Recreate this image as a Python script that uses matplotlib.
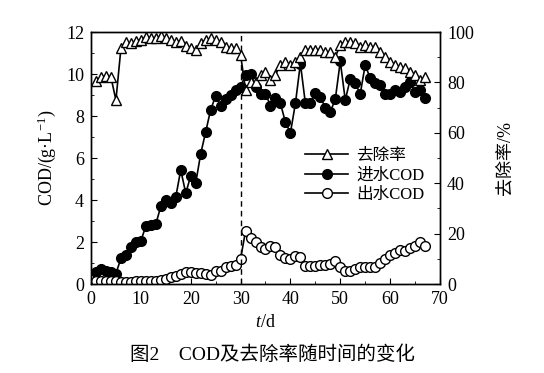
import numpy as np
import matplotlib
matplotlib.use('Agg')
import matplotlib.pyplot as plt
from matplotlib.ticker import MultipleLocator

plt.rcParams['font.family'] = ['Liberation Serif', 'Noto Sans CJK SC']
plt.rcParams['mathtext.fontset'] = 'custom'
plt.rcParams['mathtext.rm'] = 'Liberation Serif'
plt.rcParams['mathtext.it'] = 'Liberation Serif:italic'

days = np.arange(1, 68)

# influent COD, g/L
cod_in = [0.57, 0.7, 0.62, 0.57, 0.5, 1.22, 1.38, 1.76, 2.0, 2.05,
          2.76, 2.8, 2.85, 3.7, 4.0, 3.86, 4.14, 5.43, 4.33, 5.14,
          4.8, 6.2, 7.24, 8.3, 8.95, 8.5, 8.8, 9.0, 9.24, 9.4,
          9.95, 10.0, 9.4, 9.05, 9.05, 8.5, 8.86, 8.6, 7.7, 7.2,
          8.6, 10.5, 8.6, 8.6, 9.1, 8.9, 8.4, 8.2, 8.8, 10.6,
          8.76, 9.76, 9.57, 9.05, 10.43, 9.8, 9.57, 9.5, 9.05, 9.05,
          9.24, 9.14, 9.4, 9.6, 9.14, 9.24, 8.86]

# effluent COD, g/L
cod_out = [0.15, 0.15, 0.12, 0.12, 0.12, 0.1, 0.1, 0.1, 0.12, 0.12,
           0.15, 0.15, 0.15, 0.2, 0.25, 0.33, 0.38, 0.48, 0.55, 0.57,
           0.52, 0.52, 0.5, 0.45, 0.62, 0.6, 0.8, 0.85, 0.9, 1.2,
           2.52, 2.2, 2.0, 1.76, 1.67, 1.8, 1.76, 1.38, 1.24, 1.19,
           1.33, 1.29, 0.86, 0.86, 0.86, 0.9, 0.9, 0.95, 1.1, 0.8,
           0.62, 0.62, 0.7, 0.8, 0.8, 0.8, 0.83, 1.0, 1.19, 1.38,
           1.48, 1.6, 1.57, 1.71, 1.81, 2.0, 1.81]

# removal rate, %
removal = [80.5, 82, 82.5, 82, 73, 93.5, 96, 95.5, 96.5, 97,
           98, 97.5, 97.5, 98.3, 97.5, 97, 96, 96.5, 94.5, 93.5,
           92.8, 95.5, 96.8, 97.5, 96.8, 96, 94, 93.5, 93.5, 91,
           77, 80, 80, 83, 84, 81, 83, 87, 88, 87,
           88, 90, 93, 93, 93, 93, 92, 92, 90, 95,
           96, 96, 95.5, 94, 95, 94, 94, 92, 90, 88,
           87, 86, 85.7, 84, 83, 81, 82]

fig = plt.figure(figsize=(5.44, 3.73), dpi=100)
ax = fig.add_axes([0.1673, 0.2386, 0.6415, 0.6756])
ax2 = ax.twinx()

l2, = ax.plot(days, cod_in, '-o', color='k', mfc='k', ms=7, lw=1.2, label='进水COD')
l3, = ax.plot(days, cod_out, '-o', color='k', mfc='white', ms=7, lw=1.2, label='出水COD')
l1, = ax2.plot(days, removal, '-^', color='k', mfc='white', ms=7.5, lw=1.2, label='去除率')
ax.axvline(30, ls='--', lw=1, color='k', dashes=(4, 3))

ax.set_xlim(0, 70)
ax.set_ylim(0, 12)
ax2.set_ylim(0, 100)
ax.xaxis.set_major_locator(MultipleLocator(10))
ax.xaxis.set_minor_locator(MultipleLocator(5))
ax.yaxis.set_major_locator(MultipleLocator(2))
ax.yaxis.set_minor_locator(MultipleLocator(1))
ax2.yaxis.set_major_locator(MultipleLocator(20))
ax2.yaxis.set_minor_locator(MultipleLocator(10))
for a in (ax, ax2):
    a.tick_params(which='both', direction='in', labelsize=13, pad=5)
    a.tick_params(which='major', length=4)
    a.tick_params(which='minor', length=2.5)
    for s in a.spines.values():
        s.set_linewidth(1.0)

ax.set_xlabel('$t$/d', fontsize=13, labelpad=4)
ax.set_ylabel('COD/(g·L$^{-1}$)', fontsize=13, labelpad=6)
ax2.set_ylabel('去除率/%', fontsize=13, labelpad=16)

ax.legend([l1, l2, l3], ['去除率', '进水COD', '出水COD'], frameon=False,
          loc='center left', bbox_to_anchor=(0.57, 0.43), fontsize=12,
          handlelength=2.6, labelspacing=0.2, handletextpad=0.5)

fig.text(0.5, 0.035, '图2　COD及去除率随时间的变化', ha='center', fontsize=14,
         fontweight='medium')

fig.savefig('out.png', dpi=100)
